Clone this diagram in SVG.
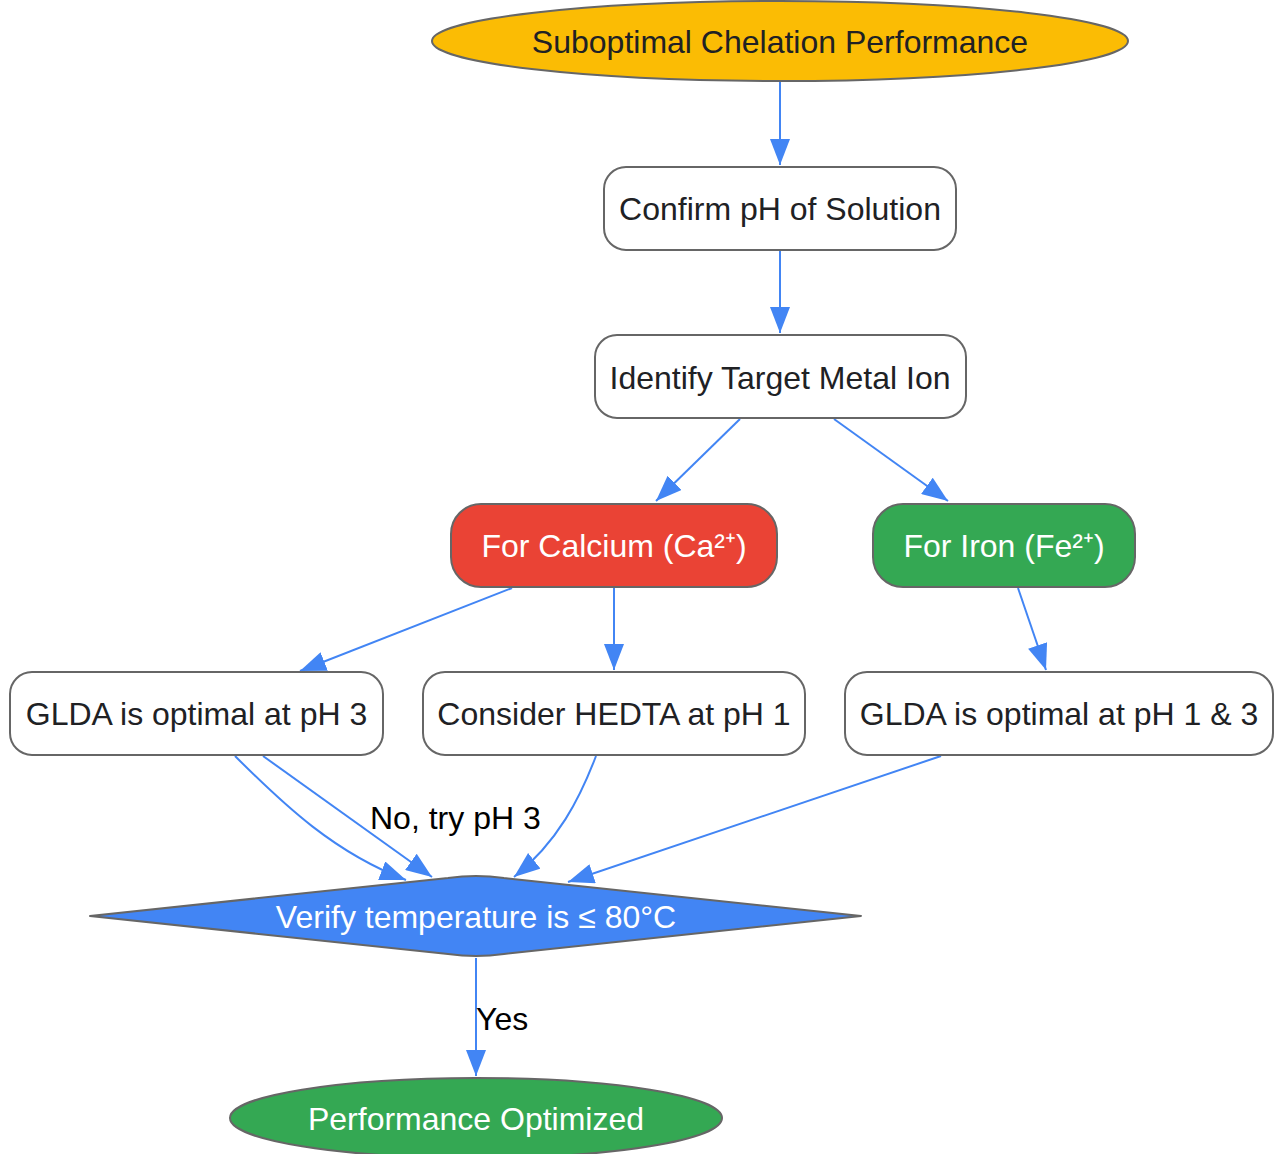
<svg xmlns="http://www.w3.org/2000/svg" width="1278" height="1154" viewBox="0 0 1278 1154">
<defs>
<marker id="ah" viewBox="0 0 26 20" refX="26" refY="10" markerWidth="26" markerHeight="20" markerUnits="userSpaceOnUse" orient="auto">
<path d="M0,0 L26,10 L0,20 z" fill="#4285F4"/>
</marker>
<style>
.n{stroke:#666666;stroke-width:2}
.w{fill:#ffffff}
.t{font-family:"Liberation Sans",Arial,sans-serif;font-size:32px;text-anchor:middle;dominant-baseline:central}
.dk{fill:#202124}
.lt{fill:#ffffff}
.e{fill:none;stroke:#4285F4;stroke-width:2;marker-end:url(#ah)}
.l{font-family:"Liberation Sans",Arial,sans-serif;font-size:32px;fill:#000000;dominant-baseline:central}
</style>
</defs>
<rect width="1278" height="1154" fill="#ffffff"/>
<g id="connectors">
<path class="e" d="M780,82 L780,165"/>
<path class="e" d="M780,251 L780,333"/>
<path class="e" d="M740,419 L656,501"/>
<path class="e" d="M834,419 L948,501"/>
<path class="e" d="M512,588 L300,671"/>
<path class="e" d="M614,588 L614,670"/>
<path class="e" d="M1018,588 L1046,670"/>
<path class="e" d="M235,756 C285,806 335,853 406,880"/>
<path class="e" d="M263,756 L432,877"/>
<path class="e" d="M596,756 C580,798 558,842 514,877"/>
<path class="e" d="M941,756 L568,882"/>
<path class="e" d="M476,958 L476,1076"/>
<text class="l" x="370" y="818">No, try pH 3</text>
<text class="l" x="476" y="1019">Yes</text>
</g>
<g id="start">
<ellipse class="n" cx="780" cy="41" rx="348" ry="40" fill="#FBBC04"/>
<text class="t dk" x="780" y="42">Suboptimal Chelation Performance</text>
</g>
<g id="confirm">
<rect class="n w" x="604" y="167" width="352" height="83" rx="22"/>
<text class="t dk" x="780" y="209">Confirm pH of Solution</text>
</g>
<g id="identify">
<rect class="n w" x="595" y="335" width="371" height="83" rx="22"/>
<text class="t dk" x="780" y="378">Identify Target Metal Ion</text>
</g>
<g id="calcium">
<rect class="n" x="451" y="504" width="326" height="83" rx="30" fill="#EA4335"/>
<text class="t lt" x="614" y="546">For Calcium (Ca²⁺)</text>
</g>
<g id="iron">
<rect class="n" x="873" y="504" width="262" height="83" rx="30" fill="#34A853"/>
<text class="t lt" x="1004" y="546">For Iron (Fe²⁺)</text>
</g>
<g id="glda3">
<rect class="n w" x="10" y="672" width="373" height="83" rx="22"/>
<text class="t dk" x="196.5" y="714">GLDA is optimal at pH 3</text>
</g>
<g id="hedta">
<rect class="n w" x="423" y="672" width="382" height="83" rx="22"/>
<text class="t dk" x="614" y="714">Consider HEDTA at pH 1</text>
</g>
<g id="glda13">
<rect class="n w" x="845" y="672" width="428" height="83" rx="22"/>
<text class="t dk" x="1059" y="714">GLDA is optimal at pH 1 &amp; 3</text>
</g>
<g id="verify">
<path class="n" stroke-linejoin="round" fill="#4285F4" d="M90,916 L448,878 Q476,874 504,878 L861,916 L504,954 Q476,958 448,954 Z"/>
<text class="t lt" x="476" y="917">Verify temperature is ≤ 80°C</text>
</g>
<g id="optimized">
<ellipse class="n" cx="476" cy="1118" rx="246" ry="40" fill="#34A853"/>
<text class="t lt" x="476" y="1119">Performance Optimized</text>
</g>
</svg>
